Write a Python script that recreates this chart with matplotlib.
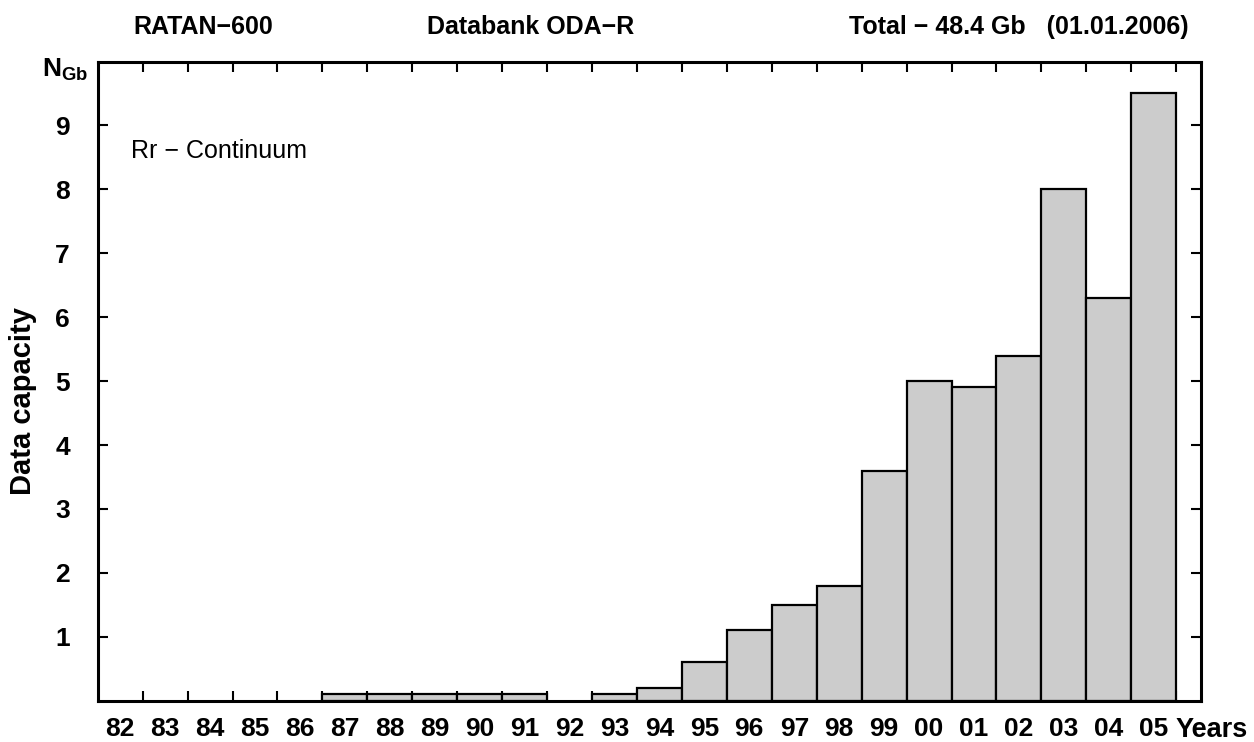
import numpy as np
import matplotlib.pyplot as plt

plt.rcParams['font.family'] = ['Liberation Sans', 'DejaVu Sans']
plt.rcParams['mathtext.fontset'] = 'custom'
plt.rcParams['mathtext.bf'] = 'Liberation Sans:bold'
plt.rcParams['mathtext.rm'] = 'Liberation Sans:bold'

# data
years = np.arange(82, 106)
year_labels = ['82', '83', '84', '85', '86', '87', '88', '89', '90', '91', '92', '93',
               '94', '95', '96', '97', '98', '99', '00', '01', '02', '03', '04', '05']
capacity = [0, 0, 0, 0, 0, 0.1, 0.1, 0.1, 0.1, 0.1, 0, 0.1,
            0.2, 0.6, 1.1, 1.5, 1.8, 3.6, 5.0, 4.9, 5.4, 8.0, 6.3, 9.5]
y_ticks = [1, 2, 3, 4, 5, 6, 7, 8, 9]

fig = plt.figure(figsize=(12.54, 7.42), dpi=100)
ax = fig.add_axes([0.0779, 0.0557, 0.8798, 0.8614])

for y, v in zip(years, capacity):
    if v > 0:
        ax.bar(y, v, width=1.0, color='#cccccc', edgecolor='black', linewidth=1.6, zorder=2)

ax.set_xlim(81.5, 106.05)
ax.set_ylim(0, 10)

# labels at bin centres, tick marks at bin edges
ax.set_xticks(years)
ax.set_xticklabels(year_labels, fontsize=19, fontweight='bold')
ax.tick_params(axis='x', which='major', length=0, pad=12)
ax.set_xticks(years + 0.5, minor=True)
ax.tick_params(axis='x', which='minor', direction='in', length=7, width=1.5,
               top=True, bottom=True)

ax.set_yticks(y_ticks)
ax.set_yticklabels([str(t) for t in y_ticks], fontsize=19, fontweight='bold')
ax.tick_params(axis='y', direction='in', length=7, width=1.5, left=True, right=True, pad=20)

for s in ax.spines.values():
    s.set_linewidth(2.2)

fig.text(0.018, 0.46, 'Data capacity', rotation=90, fontsize=21, fontweight='bold',
         ha='center', va='center')
fig.text(0.052, 0.906, r'$\mathbf{N_{Gb}}$', fontsize=19, ha='center', va='center')
ax.text(0.977, -0.046, 'Years', transform=ax.transAxes, fontsize=19.5, fontweight='bold',
        ha='left', va='center')
ax.text(0.03, 0.86, 'Rr \u2212 Continuum', transform=ax.transAxes, fontsize=18,
        ha='left', va='center')

fig.text(0.162, 0.963, 'RATAN\u2212600', fontsize=18, fontweight='bold', ha='center', va='center')
fig.text(0.423, 0.963, 'Databank ODA\u2212R', fontsize=18, fontweight='bold', ha='center', va='center')
fig.text(0.948, 0.963, 'Total \u2212 48.4 Gb   (01.01.2006)', fontsize=18, fontweight='bold',
         ha='right', va='center')

fig.savefig('out.png', dpi=100)
